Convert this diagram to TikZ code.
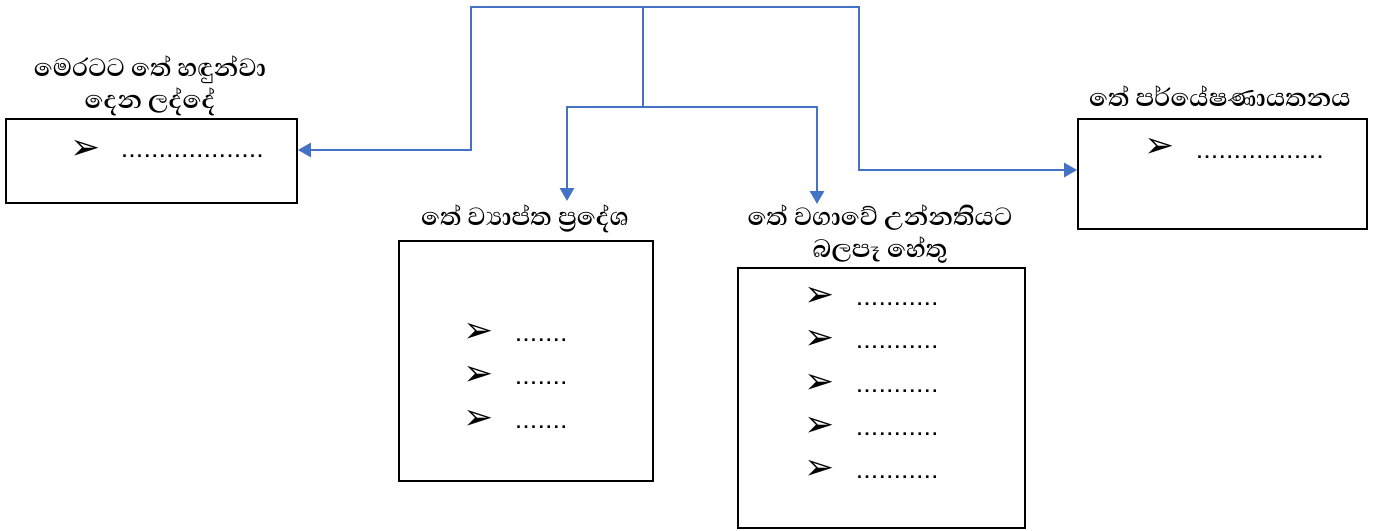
\documentclass[tikz,border=0pt]{standalone}
\usepackage{fontspec}
\newfontfamily\sinhfont[Script=Sinhala]{Abhaya Libre}
\newfontfamily\bulfont{DejaVu Sans}
\newfontfamily\dotfont[LetterSpace=14]{Liberation Sans}
\usetikzlibrary{arrows.meta}
\definecolor{linkblue}{HTML}{4472C4}
\tikzset{
  box/.style={draw=black, line width=1.8pt, inner sep=0pt},
  lbl/.style={font=\sinhfont\bfseries\fontsize{32}{32}\selectfont, align=center, inner sep=0pt},
  bullet/.style={font=\bulfont\fontsize{36}{36}\selectfont, inner sep=0pt},
  dotline/.style={font=\dotfont\bfseries\fontsize{18}{18}\selectfont, inner sep=0pt, anchor=west},
  conn/.style={draw=linkblue, line width=2.8pt, -{Triangle[length=13pt,width=14pt]}},
  connl/.style={draw=linkblue, line width=2.8pt}
}
\begin{document}
\begin{tikzpicture}[x=1pt,y=-1pt]
\useasboundingbox (0,0) rectangle (1378,530);
% boxes
\node[box, minimum width=291pt, minimum height=84pt] (b1) at (151.5,161) {};
\node[box, minimum width=254pt, minimum height=240pt] (b2) at (526,361) {};
\node[box, minimum width=287pt, minimum height=260pt] (b3) at (881.5,398) {};
\node[box, minimum width=289pt, minimum height=110pt] (b4) at (1222.5,174) {};
% labels
\node[lbl] (l1) at (150,86) {මෙරටට තේ හඳුන්වා\\දෙන ලද්දේ};
\node[lbl] (l2) at (525,219) {තේ ව්‍යාප්ත ප්‍රදේශ};
\node[lbl] (l3) at (880,234) {තේ වගාවේ උන්නතියට\\බලපෑ හේතු};
\node[lbl] (l4) at (1220,96) {තේ පර්යේෂණායතනය};
% items
\node[bullet] (i1) at (86,150) {➢};
\node[dotline] (d1) at (122,156) {...................};
\node[bullet] (i4) at (1160,148) {➢};
\node[dotline] (d4) at (1197,157) {.................};
\foreach \y [count=\k] in {333,376,420}{
  \node[bullet] (m\k) at (479,\y) {➢};
  \node[dotline] (md\k) at (516,\y+7) {.......};
}
\foreach \y [count=\k] in {297,340,384,427,470}{
  \node[bullet] (r\k) at (820,\y) {➢};
  \node[dotline] (rd\k) at (857,\y+7) {...........};
}
% connectors
\coordinate (J) at (643,7);
\coordinate (K) at (643,107);
\coordinate (a2) at (567,201);
\coordinate (a3) at (817,204);
\draw[connl] (471,7) -- (859,7);
\draw[conn] (J) -| (471,150) -- (b1.east |- 0,150);
\draw[conn] (J) -| (859,170) -- (b4.west |- 0,170);
\draw[connl] (J) -- (K);
\draw[conn] (K) -| (a2);
\draw[conn] (K) -| (a3);
\end{tikzpicture}
\end{document}
